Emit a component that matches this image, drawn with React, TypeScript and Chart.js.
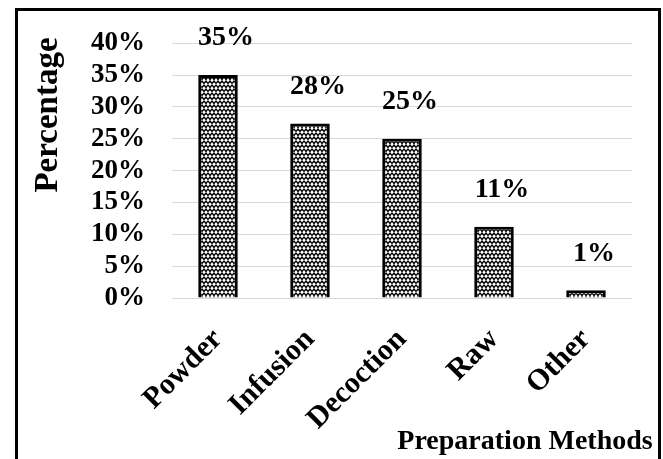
import React, { useEffect, useRef } from "react";
import { Chart, registerables } from "chart.js";

Chart.register(...registerables);

const categories = ["Powder", "Infusion", "Decoction", "Raw", "Other"];
const percentages = [35, 27.4, 25, 11.2, 1.2];
const valueLabels = ["35%", "28%", "25%", "11%", "1%"];
const yTicks = [0, 5, 10, 15, 20, 25, 30, 35, 40];
const yTitle = "Percentage";
const xTitle = "Preparation Methods";

const FONT = "'Liberation Serif', 'Times New Roman', serif";

function makePattern(): CanvasPattern | string {
  const c = document.createElement("canvas");
  c.width = 8;
  c.height = 8;
  const ctx = c.getContext("2d");
  if (!ctx) return "#888";
  ctx.fillStyle = "#ffffff";
  ctx.fillRect(0, 0, 8, 8);
  ctx.strokeStyle = "#000000";
  ctx.lineWidth = 1.4;
  ctx.beginPath();
  // chevrons row 1
  ctx.moveTo(0, 3.5);
  ctx.lineTo(2, 1);
  ctx.lineTo(4, 3.5);
  // chevrons row 1 offset
  ctx.moveTo(4, 3.5);
  ctx.lineTo(6, 1);
  ctx.lineTo(8, 3.5);
  // row 2, shifted
  ctx.moveTo(-2, 7.5);
  ctx.lineTo(0, 5);
  ctx.lineTo(2, 7.5);
  ctx.lineTo(4, 5);
  ctx.lineTo(6, 7.5);
  ctx.lineTo(8, 5);
  ctx.lineTo(10, 7.5);
  ctx.stroke();
  const p = ctx.createPattern(c, "repeat");
  return p || "#888";
}

export default function App() {
  const ref = useRef<HTMLCanvasElement>(null);

  useEffect(() => {
    if (!ref.current) return;
    const pattern = makePattern();

    const overlay = {
      id: "overlay",
      afterDraw(chart: any) {
        const ctx = chart.ctx;
        ctx.save();
        // frame
        ctx.strokeStyle = "#000";
        ctx.lineWidth = 3;
        ctx.strokeRect(16.5, 9.5, 643, 520);
        // value labels
        ctx.fillStyle = "#000";
        ctx.font = `bold 28px ${FONT}`;
        ctx.textAlign = "center";
        ctx.textBaseline = "middle";
        const meta = chart.getDatasetMeta(0);
        meta.data.forEach((bar: any, i: number) => {
          ctx.fillText(valueLabels[i], bar.x + 8, bar.y - 37);
        });
        // y title
        ctx.font = `bold 33px ${FONT}`;
        ctx.save();
        ctx.translate(48, 115);
        ctx.rotate(-Math.PI / 2);
        ctx.fillText(yTitle, 0, 0);
        ctx.restore();
        // x title
        ctx.font = `bold 28px ${FONT}`;
        ctx.fillText(xTitle, 525, 442);
        ctx.restore();
      },
    };

    const chart = new Chart(ref.current, {
      type: "bar",
      data: {
        labels: categories,
        datasets: [
          {
            data: percentages,
            backgroundColor: pattern as any,
            borderColor: "#000",
            borderWidth: 3,
            categoryPercentage: 1,
            barPercentage: 0.43,
          },
        ],
      },
      options: {
        animation: false,
        responsive: false,
        maintainAspectRatio: false,
        layout: { padding: { top: 42, right: 31, left: 0, bottom: 0 } },
        plugins: { legend: { display: false }, tooltip: { enabled: false } },
        scales: {
          x: {
            grid: { display: false, drawTicks: false },
            border: { display: false },
            ticks: {
              autoSkip: false,
              maxRotation: 45,
              minRotation: 45,
              padding: 24,
              color: "#000",
              font: { family: FONT, size: 30, weight: "bold" },
            },
            afterFit(scale: any) {
              scale.height = 161;
            },
          },
          y: {
            min: 0,
            max: 40,
            grid: { color: "#d9d9d9", lineWidth: 1, drawTicks: false },
            border: { display: false },
            afterBuildTicks(scale: any) {
              scale.ticks = yTicks.map((v) => ({ value: v }));
            },
            ticks: {
              autoSkip: false,
              stepSize: 5,
              padding: 27,
              color: "#000",
              font: { family: FONT, size: 27, weight: "bold" },
              callback: (v: any) => `${v}%`,
            },
            afterFit(scale: any) {
              scale.width = 172;
            },
          },
        },
      },
      plugins: [overlay],
    });
    return () => chart.destroy();
  }, []);

  return (
    <div style={{ position: "fixed", left: 0, top: 0, width: 663, height: 459, background: "#fff" }}>
      <canvas ref={ref} width={663} height={459} style={{ width: 663, height: 459 }} />
    </div>
  );
}
